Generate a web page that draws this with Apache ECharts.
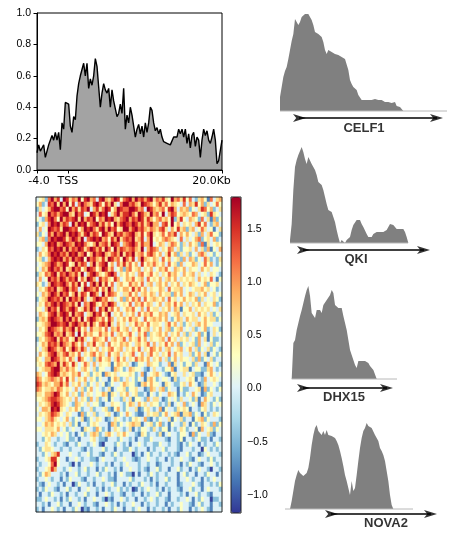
<!DOCTYPE html>
<html>
<head>
<meta charset="utf-8">
<script src="https://cdn.jsdelivr.net/npm/echarts@6/dist/echarts.min.js"></script>
<style>
  html, body { margin: 0; padding: 0; background: #fff; }
  #chart { width: 454px; height: 535px; }
</style>
</head>
<body>
<div id="chart"></div>
<script>
// mean signal, evenly spaced bins from -4kb to 20kb
const profileValues = [
  0.11, 0.16, 0.12, 0.14, 0.16, 0.08, 0.12, 0.16, 0.17, 0.22,
  0.19, 0.24, 0.19, 0.24, 0.13, 0.30, 0.26, 0.43, 0.44, 0.42,
  0.28, 0.24, 0.34, 0.32, 0.47, 0.55, 0.60, 0.59, 0.68, 0.60,
  0.68, 0.52, 0.58, 0.54, 0.60, 0.71, 0.66, 0.53, 0.40, 0.49,
  0.55, 0.51, 0.49, 0.52, 0.40, 0.51, 0.44, 0.45, 0.34, 0.36,
  0.42, 0.36, 0.52, 0.26, 0.35, 0.30, 0.40, 0.35, 0.36, 0.21,
  0.26, 0.29, 0.23, 0.28, 0.21, 0.30, 0.24, 0.30, 0.40, 0.38,
  0.30, 0.25, 0.27, 0.23, 0.26, 0.21, 0.18, 0.17, 0.17, 0.17,
  0.16, 0.15, 0.21, 0.22, 0.21, 0.26, 0.23, 0.26, 0.21, 0.26,
  0.17, 0.23, 0.14, 0.22, 0.24, 0.15, 0.21, 0.19, 0.08, 0.19,
  0.26, 0.22, 0.25, 0.19, 0.17, 0.21, 0.26, 0.19, 0.04, 0.06,
  0.07, 0.19
];
const profileRange = [-4, 20];
const profileTicks = [-4, 0, 20];
const profileTickLabels = ['-4.0', 'TSS', '20.0Kb'];

// heatmap: one digit per cell, digit -> value through levelValues
const levelValues = [-1.1, -0.8, -0.45, 0.0, 0.3, 0.6, 0.9, 1.2, 1.5, 1.8];
const heatRows = [
  "3452796839 8576948967 3896579847 8969786895 7685496758 4732564173 56",
  "4623879596 9483797658 9748695379 9786598764 6857465437 3658462534 74",
  "2534689978 4968587936 8579846987 7998673986 5674896365 6243587462 35",
  "3745978689 9659783498 6989357968 8975986596 7493687456 5476345285 43",
  "4326897496 8789596879 4769896578 9687985864 6756492584 3654273516 24",
  "2453798968 7396989578 9685749689 8798685796 6378494635 4536847325 63",
  "3634987859 9878469897 5896978459 9689786576 5785364856 2563475341 35",
  "5243869789 6989758968 7498659786 7896584795 4574768364 6435263574 42",
  "3562798998 5798693789 8967486957 8795683694 5467654373 5346724536 23",
  "4436989679 8769897546 9678598736 7897586693 4653576425 3645271534 54",
  "2354879896 9687985798 6859749687 6786593687 6354763524 4536352614 36",
  "3645798978 6989679469 7896578695 8795674786 4635846253 5243675342 43",
  "4523689896 8697894978 6585986749 7583696546 5374634526 3652437523 25",
  "3456798679 8459687369 5789463758 5746384657 5463745263 4465347463 24",
  "4365897869 5697846987 4698573462 6745635463 4657436546 3544364534 43",
  "2547689587 9768593689 7546897354 6453674574 5354756436 4563534354 32",
  "3634978698 6879475986 3867548634 6574563745 4635646354 5453645473 14",
  "5423698789 7586948379 6958473564 4756473563 5646354635 4654346244 53",
  "3546879568 9687359876 8475963546 6485746354 4653745563 4345564534 23",
  "4365798697 8469587498 6395876435 5746356465 3645526463 4653546345 34",
  "2456987869 5978696357 9867453462 6475737456 5463745346 4546253435 42",
  "3547689798 7685937698 5476986345 4736574653 4635647463 5354635446 23",
  "4436978598 6897458697 3869574634 6574363745 5354636514 4635454534 35",
  "3654789689 8596783569 7846935463 5463746574 4656345635 4453645352 43",
  "2565898769 7968594798 6574863546 4756437456 5646324653 6455346455 24",
  "4456799878 9689768596 4786953645 3547564745 5435746352 4535646443 33",
  "3546987658 6795846375 5647365745 6354745635 4635624563 4352346235 42",
  "4457896769 5683947564 4756473564 5743647254 5646354635 2534624135 34",
  "2546789586 7459685347 6547356457 3645746354 4563745354 5342635142 23",
  "3465878697 6586473658 4563745465 6435645736 3547463624 3452634352 43",
  "4356987568 4697586354 6354674563 5464735476 4635634563 4635243524 32",
  "3645789657 8564735467 4653745635 4573463574 5354736453 3524635134 24",
  "5436698756 4753864352 5745635746 3547564635 4635246354 4352624352 33",
  "4547876958 6485347536 3544514654 5312443654 4233615342 4425331643 42",
  "3456689965 7564356435 2443316542 3654432135 3324461345 5134422563 23",
  "6534789856 5465734524 5416545344 4542361345 6432145335 3452213464 34",
  "7645676574 8463546354 2433146523 5342431564 2344315233 4541326345 43",
  "8756546685 7354635243 5341243346 5442156464 4315432245 3643125334 32",
  "7645565764 5436352463 4323513445 2445331265 3562433142 2334516243 24",
  "5546679854 6354263543 4465154354 6345223143 2433654132 4364312453 33",
  "4456788765 4536354263 5234143325 3514432635 5312434253 3425136432 42",
  "3545689865 4326543534 4213354432 4653645354 4232513436 2343165324 34",
  "4366598954 3546423352 3345214632 4335124532 3614332545 4133245323 23",
  "3545687643 5433162435 2334531243 6432113545 5246345615 5624314235 43",
  "4435675434 6324351243 5431235432 3245436213 2433514352 3314562433 32",
  "3346564545 3524133245 4333165243 4565513452 4623143325 3142354326 24",
  "4435554634 2343315432 6423135432 3513244325 3244132354 2334163452 43",
  "3345465343 4231342356 5235643546 4332154233 2513433244 3162433521 33",
  "3324533233 4223133345 3221333243 3231332243 3332133241 3323422313 32",
  "2335432332 1332433234 3103332432 3133432332 2433233213 2433132332 43",
  "3245543323 3233321323 3342331332 2432333132 3342333213 3323304323 23",
  "3324356833 3433233423 3213324323 3302313423 3233232133 4233123433 32",
  "2334588433 1334323322 1343332334 3321233433 2331323343 3213433242 33",
  "3233479433 3203133343 2332313323 4333233233 1233323313 2433213343 23",
  "2334586332 3433234233 1324332313 3433232133 4233133423 3132433203 32",
  "3246533323 1334233233 4233231343 2203133243 2332333134 2331332433 13",
  "2334323313 2433321332 3343221333 3423332313 2334233133 4323313234 33",
  "3213433231 3302433231 3323342331 3233243323 1332333123 3343213323 24",
  "2324332133 4233133433 2313233423 2301323433 2313233213 3423313433 32",
  "3133243323 1332334233 1334323321 3323313233 4233133323 1334233213 33",
  "2234332313 2433231334 3320213343 2331332343 2332133233 4313243302 23",
  "3323133423 3133432332 1334323132 3343313233 2331323343 3213423313 32",
  "2313343231 3324302133 2313324331 3323433132 3323133243 3132343213 33"
];
const colorRange = [-1.17, 1.8];
const colorbarTicks = [-1.0, -0.5, 0.0, 0.5, 1.0, 1.5];

// coverage tracks, height per bin
const geneNames = ['CELF1', 'QKI', 'DHX15', 'NOVA2'];
const celf1 = [
  14, 24, 34, 40, 44, 52, 61, 70, 77, 92, 91, 86, 89, 94, 96, 97, 97, 97, 96, 91,
  86, 79, 81, 77, 79, 74, 69, 61, 57, 61, 62, 59, 61, 57, 59, 56, 56, 54, 52, 52,
  51, 41, 31, 27, 24, 22, 21, 16, 14, 11, 9, 11, 10, 11, 11, 11, 11, 12, 11, 11,
  12, 11, 9, 9, 7, 9, 7, 8, 7, 9, 5, 7, 4, 5, 0
];
const qki = [
  3, 19, 53, 76, 83, 88, 89, 96, 91, 84, 79, 86, 88, 79, 76, 73, 68, 61, 59, 58,
  53, 46, 39, 33, 31, 31, 26, 21, 13, 6, 0, 3, 3, 0, 3, 4, 6, 13, 18, 19,
  23, 21, 23, 19, 16, 14, 9, 6, 4, 6, 9, 11, 11, 13, 11, 9, 11, 9, 13, 14,
  19, 21, 18, 16, 14, 15, 14, 13, 14, 11, 6, 0
];
const dhx15 = [
  0, 36, 39, 49, 56, 63, 69, 76, 83, 89, 93, 83, 66, 64, 61, 69, 68, 69, 66, 74,
  76, 79, 81, 84, 89, 86, 74, 73, 71, 73, 71, 63, 56, 49, 39, 29, 24, 19, 14, 11,
  18, 19, 18, 19, 18, 19, 16, 13, 11, 9, 8, 0
];
const nova2 = [
  0, 8, 18, 28, 34, 39, 36, 38, 33, 34, 36, 41, 51, 64, 74, 81, 84, 78, 76, 74,
  78, 74, 79, 74, 73, 73, 74, 71, 68, 64, 58, 51, 43, 34, 28, 21, 14, 28, 18, 21,
  34, 48, 61, 71, 78, 81, 86, 83, 84, 81, 79, 74, 73, 68, 61, 58, 54, 48, 38, 28,
  14, 4, 0
];
const trackValues = [celf1, qki, dhx15, nova2];
const trackStep = 5 / 3;

// where each track sits on the page (pixels)
const trackLayout = [
  { baseY: 111, start: 0, baseline: [0, 167], arrow: [13, 163], arrowDy: 7, labelX: 84, labelDy: 17 },
  { baseY: 243, start: 10, baseline: [10, 128], arrow: [17, 150], arrowDy: 7, labelX: 76, labelDy: 16 },
  { baseY: 379, start: 11.7, baseline: [11.7, 117], arrow: [17, 113], arrowDy: 9, labelX: 64, labelDy: 18 },
  { baseY: 509, start: 10, baseline: [5, 133], arrow: [45, 157], arrowDy: 5, labelX: 106, labelDy: 14 }
];
const arrowHead = 'path://M0,0L12,4L0,8L3,4Z';

const chart = echarts.init(document.getElementById('chart'));

const n = profileValues.length;
const profileData = profileValues.map((v, i) => [
  profileRange[0] + (i * (profileRange[1] - profileRange[0])) / (n - 1), v
]);

const rows = heatRows.map(r => r.replace(/ /g, ''));
const nCols = Math.max.apply(null, rows.map(r => r.length));
const heatData = [];
rows.forEach((r, y) => {
  for (let x = 0; x < r.length; x++) heatData.push([x, y, levelValues[+r[x]]]);
});

const tickFont = { fontFamily: 'Liberation Sans', fontSize: 10.5, color: '#000' };
const xFont = { fontFamily: 'DejaVu Sans', fontSize: 11, color: '#000' };

const grids = [
  { left: 37, top: 13, width: 185, height: 157, show: true, borderColor: '#000', borderWidth: 1, z: 10, backgroundColor: 'transparent' },
  { left: 36, top: 197, width: 186, height: 315, show: true, borderColor: '#222', borderWidth: 1, z: 10, backgroundColor: 'transparent' },
  { left: 231, top: 197, width: 10, height: 316, show: true, borderColor: '#222', borderWidth: 1, z: 10, backgroundColor: 'transparent' }
];
const xAxes = [
  {
    gridIndex: 0, type: 'value', min: profileRange[0], max: profileRange[1],
    axisLine: { onZero: false, lineStyle: { color: '#000' } },
    splitLine: { show: false },
    axisTick: { customValues: profileTicks, length: 3.5, lineStyle: { color: '#000' } },
    axisLabel: {
      customValues: profileTicks, margin: 6,
      formatter: v => {
        const i = profileTicks.indexOf(v);
        return '{t' + i + '|' + profileTickLabels[i] + '}';
      },
      rich: {
        t0: Object.assign({ padding: [0, 0, 0, 4] }, xFont),
        t1: Object.assign({}, xFont),
        t2: Object.assign({ padding: [0, 21, 0, 0] }, xFont)
      }
    }
  },
  { gridIndex: 1, type: 'category', data: Array.from({ length: nCols }, (_, i) => i), show: false },
  { gridIndex: 2, type: 'value', show: false }
];
const yAxes = [
  {
    gridIndex: 0, type: 'value', min: 0, max: 1, interval: 0.2,
    axisLine: { show: true, onZero: false, lineStyle: { color: '#000' } },
    splitLine: { show: false },
    axisTick: { show: true, length: 3.5, lineStyle: { color: '#000' } },
    axisLabel: Object.assign({ margin: 6, formatter: v => v.toFixed(1) }, tickFont)
  },
  { gridIndex: 1, type: 'category', inverse: true, data: rows.map((_, i) => i), show: false },
  {
    gridIndex: 2, type: 'value', position: 'right', min: colorRange[0], max: colorRange[1],
    axisLine: { show: false },
    splitLine: { show: false },
    axisTick: { show: true, customValues: colorbarTicks, length: 3.5, lineStyle: { color: '#000' } },
    axisLabel: Object.assign({
      customValues: colorbarTicks, margin: 6,
      formatter: v => v.toFixed(1).replace('-', '\u2212')
    }, tickFont)
  }
];

const series = [
  {
    type: 'line', xAxisIndex: 0, yAxisIndex: 0, data: profileData, symbol: 'none',
    lineStyle: { color: '#000', width: 1.4 },
    areaStyle: { color: '#a3a3a3', opacity: 1 }
  },
  {
    type: 'heatmap', xAxisIndex: 1, yAxisIndex: 1, data: heatData,
    emphasis: { disabled: true }
  }
];

trackLayout.forEach((t, k) => {
  const gi = grids.length;
  grids.push({ left: 280, width: 170, top: t.baseY - 100, height: 125 });
  xAxes.push({ gridIndex: gi, type: 'value', min: 0, max: 170, show: false });
  yAxes.push({ gridIndex: gi, type: 'value', min: -25, max: 100, show: false });
  const ax = { xAxisIndex: gi, yAxisIndex: gi };
  series.push(Object.assign({
    type: 'line', symbol: 'none', silent: true,
    data: [[t.baseline[0], 0], [t.baseline[1], 0]],
    lineStyle: { color: '#b8b8b8', width: 1 }
  }, ax));
  series.push(Object.assign({
    type: 'line', symbol: 'none', silent: true,
    data: trackValues[k].map((h, i) => [t.start + i * trackStep, h]),
    lineStyle: { width: 0 },
    areaStyle: { color: '#808080', opacity: 1 }
  }, ax));
  series.push(Object.assign({
    type: 'line', symbol: 'none', silent: true,
    data: [[t.arrow[0] + 6, -t.arrowDy], [t.arrow[1] - 6, -t.arrowDy]],
    lineStyle: { color: '#000', width: 1.5 }
  }, ax));
  series.push(Object.assign({
    type: 'scatter', silent: true, symbol: arrowHead, symbolSize: [13, 8],
    itemStyle: { color: '#000' },
    data: [[t.arrow[0] + 6.5, -t.arrowDy], [t.arrow[1] - 6.5, -t.arrowDy]]
  }, ax));
  series.push(Object.assign({
    type: 'scatter', silent: true, symbolSize: 0,
    data: [[t.labelX, -t.labelDy]],
    label: {
      show: true, position: 'inside', formatter: geneNames[k],
      fontFamily: 'Liberation Sans', fontWeight: 'bold', fontSize: 13, color: '#000'
    }
  }, ax));
});

chart.setOption({
  animation: false,
  grid: grids,
  xAxis: xAxes,
  yAxis: yAxes,
  visualMap: {
    type: 'continuous', min: colorRange[0], max: colorRange[1], seriesIndex: 1, dimension: 2,
    calculable: false, orient: 'vertical', left: 231, top: 197, padding: 0,
    itemWidth: 10, itemHeight: 316, hoverLink: false,
    inRange: {
      color: ['#313695', '#4575b4', '#74add1', '#abd9e9', '#e0f3f8', '#ffffbf',
              '#fee090', '#fdae61', '#f46d43', '#d73027', '#a50026']
    }
  },
  series: series
});
</script>
</body>
</html>
